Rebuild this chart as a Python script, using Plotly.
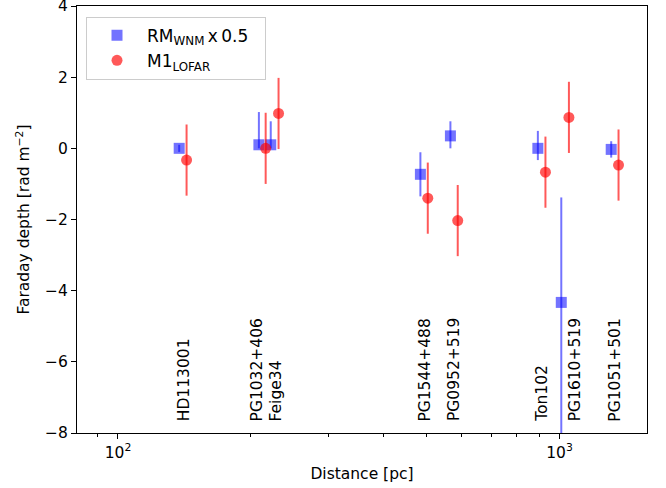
import math
import plotly.graph_objects as go

# ---- data ----
names = ["HD113001", "PG1032+406", "Feige34", "PG1544+488", "PG0952+519",
         "Ton102", "PG1610+519", "PG1051+501"]

# RM_WNM x 0.5 (blue squares)
dist_rm = [137.6, 208.5, 221.8, 484, 566, 893, 1009, 1309]
rm_val = [0.0, 0.10, 0.10, -0.73, 0.35, 0.0, -4.33, -0.03]
rm_err_up = [0.10, 0.92, 0.66, 0.62, 0.41, 0.49, 2.95, 0.23]
rm_err_dn = [0.10, 0.10, 0.10, 0.62, 0.35, 0.33, 4.00, 0.23]

# M1_LOFAR (red circles)
dist_m1 = [143, 216, 231, 503, 588, 929, 1050, 1360]
m1_val = [-0.33, 0.0, 0.98, -1.40, -2.03, -0.67, 0.87, -0.47]
m1_err = [1.0, 1.0, 1.0, 1.0, 1.0, 1.0, 1.0, 1.0]

# label positions (distance) and height
label_x = [133.5, 195.6, 216.0, 470, 548, 866, 1026, 1266]
label_y = -7.7

y_ticks = [-8, -6, -4, -2, 0, 2, 4]
y_ticktext = ["\u22128", "\u22126", "\u22124", "\u22122", "0", "2", "4"]
x_ticks = [100, 1000]
x_ticktext = ["10<sup>2</sup>", "10<sup>3</sup>"]
x_minor = [90, 200, 300, 400, 500, 600, 700, 800, 900]

FONT = "DejaVu Sans"
FS = 15.5

blue = "rgba(0,0,255,0.55)"
red = "rgba(255,0,0,0.65)"

fig = go.Figure()
fig.add_trace(go.Scatter(
    x=dist_rm, y=rm_val, mode="markers",
    name="RM<sub>WNM</sub>\u2009x\u20090.5\u00a0\u00a0",
    marker=dict(symbol="square", size=11, color=blue, line=dict(width=0)),
    error_y=dict(type="data", symmetric=False, array=rm_err_up, arrayminus=rm_err_dn,
                 color=blue, thickness=2, width=0),
))
fig.add_trace(go.Scatter(
    x=dist_m1, y=m1_val, mode="markers",
    name="M1<sub>LOFAR</sub>",
    marker=dict(symbol="circle", size=11, color=red, line=dict(width=0)),
    error_y=dict(type="data", array=m1_err, color=red, thickness=2, width=0),
))

for nm, lx in zip(names, label_x):
    fig.add_annotation(x=math.log10(lx), y=label_y, xref="x", yref="y", text=nm,
                       textangle=-90, showarrow=False, xanchor="left", yanchor="bottom",
                       borderpad=0, font=dict(family=FONT, size=FS, color="black"))

axis_common = dict(showline=True, linecolor="black", linewidth=1, mirror=True,
                   ticks="outside", ticklen=5, tickwidth=1, tickcolor="black",
                   showgrid=False, zeroline=False, automargin=False,
                   ticklabeloverflow="allow",
                   tickfont=dict(family=FONT, size=FS, color="black"))

fig.update_xaxes(type="log", range=[1.9072, 3.198],
                 tickmode="array", tickvals=x_ticks, ticktext=x_ticktext,
                 minor=dict(tickmode="array", tickvals=x_minor, ticks="outside",
                            ticklen=3, tickwidth=0.8, tickcolor="black", showgrid=False),
                 title=dict(text="Distance [pc]", font=dict(family=FONT, size=FS, color="black"),
                            standoff=7),
                 **axis_common)
fig.update_yaxes(range=[-8, 4], tickmode="array", tickvals=y_ticks, ticktext=y_ticktext,
                 title=dict(text="Faraday depth [rad m<sup>\u22122</sup>]",
                            font=dict(family=FONT, size=FS, color="black"), standoff=11),
                 **axis_common)

fig.update_layout(
    width=666, height=488,
    margin=dict(l=77, r=18.5, t=6, b=55),
    paper_bgcolor="white", plot_bgcolor="white",
    font=dict(family=FONT, size=FS, color="black"),
    legend=dict(x=0.0158, y=0.975, xanchor="left", yanchor="top",
                bgcolor="rgba(255,255,255,0.8)", bordercolor="#cccccc", borderwidth=1,
                itemwidth=50, font=dict(family=FONT, size=17, color="black")),
)

fig.write_html("out.html", config={"displayModeBar": False},
               post_script="document.body.style.margin='0';")
